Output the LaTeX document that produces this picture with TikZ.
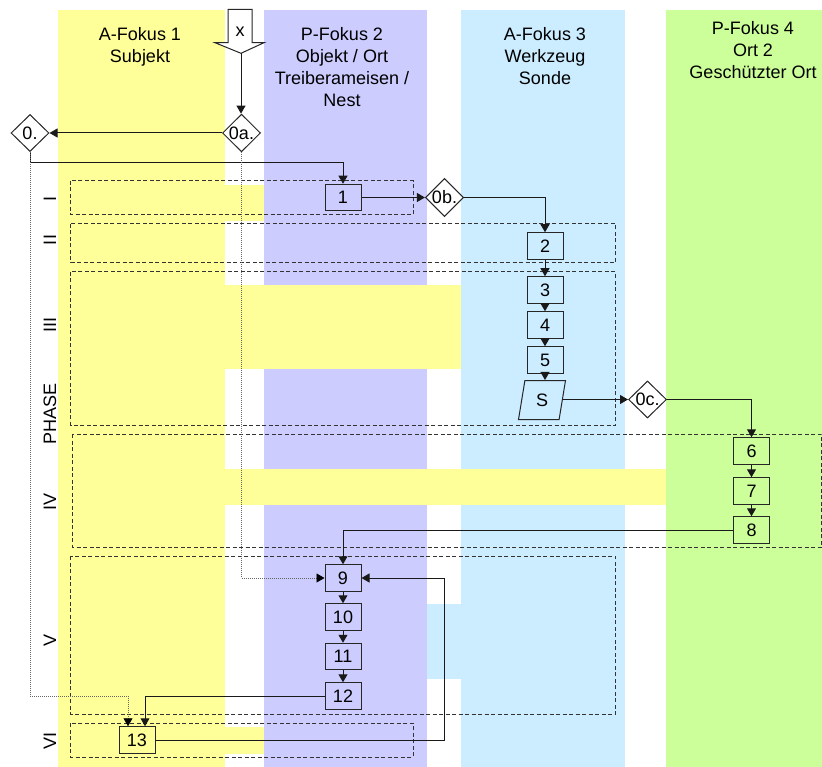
\documentclass[tikz,border=0pt]{standalone}
\usepackage{fontspec}
\setmainfont{Liberation Sans}
\usetikzlibrary{shapes.geometric,arrows.meta}
\definecolor{yel}{HTML}{FFFF99}
\definecolor{pur}{HTML}{CCCCFF}
\definecolor{blu}{HTML}{CCECFF}
\definecolor{grn}{HTML}{CCFF99}
\begin{document}
\begin{tikzpicture}[x=1pt,y=-1pt,
  fs/.style={font=\fontsize{18}{22}\selectfont},
  box/.style={draw=black!85, line width=1pt, minimum width=36pt, minimum height=26.5pt, inner sep=0pt, fs},
  dia/.style={diamond, draw=black!85, fill=white, line width=1pt, minimum width=38pt, minimum height=37pt, inner sep=0pt, fs},
  para/.style={trapezium, trapezium left angle=80, trapezium right angle=100, trapezium stretches=true, draw=black!85, line width=1pt, minimum width=47pt, minimum height=39pt, inner sep=0pt, fs},
  arr/.style={draw=black!90, line width=1pt, -{Triangle[length=8pt,width=9pt]}},
  dotarr/.style={draw=black!60, line width=.7pt, dash pattern=on 1pt off 1pt, -{Triangle[length=8pt,width=9pt,color=black]}},
  phasebox/.style={draw=black!80, line width=1pt, dash pattern=on 4pt off 2.5pt},
  head/.style={fs, align=center, anchor=north, inner sep=0pt},
  plab/.style={fs, rotate=90, inner sep=0pt}]
\useasboundingbox (0,0) rectangle (822,767);
% columns
\fill[yel] (58,10) rectangle (225,767);
\fill[pur] (264,10) rectangle (427,767);
\fill[blu] (461,10) rectangle (625,767);
\fill[grn] (666,10) rectangle (822,767);
% bands
\fill[yel] (58,185) rectangle (264,221);
\fill[yel] (58,285) rectangle (461,369);
\fill[yel] (58,469) rectangle (666,505);
\fill[blu] (427,604) rectangle (461,679);
\fill[yel] (58,727) rectangle (264,754);
% phase boxes
\draw[phasebox] (70.7,181) rectangle (413,215);
\draw[phasebox] (70.7,224) rectangle (615.7,263);
\draw[phasebox] (70.7,272) rectangle (615.7,425);
\draw[phasebox] (72.5,434) rectangle (821.5,547);
\draw[phasebox] (70.7,556) rectangle (615.7,714);
\draw[phasebox] (70.7,723) rectangle (413,757);
% headers
\node[head] (h1) at (140,27) {A-Fokus 1\\Subjekt};
\node[head] (h2) at (342,27) {P-Fokus 2\\Objekt / Ort\\Treiberameisen /\\Nest};
\node[head] (h3) at (545,27) {A-Fokus 3\\Werkzeug\\Sonde};
\node[head] (h4) at (753,21.5) {P-Fokus 4\\Ort 2\\Geschützter Ort};
% phase labels
\node[plab] (pI) at (50,199) {I};
\node[plab] (pII) at (50,240) {II};
\node[plab] (pIII) at (50,325) {III};
\node[plab] (pPH) at (50,414) {PHASE};
\node[plab] (pIV) at (50,502) {IV};
\node[plab] (pV) at (50,640) {V};
\node[plab] (pVI) at (50,741) {VI};
% input arrow x
\draw[draw=black!85, fill=white, line width=1pt] (228,9.3) -- (252,9.3) -- (252,42.7) -- (264,42.7) -- (241,53.3) -- (215,42.7) -- (228,42.7) -- cycle;
\coordinate (xtip) at (241,53.3);
\node[fs, inner sep=0pt] (xl) at (240,32) {x};
% diamonds
\node[dia] (d0) at (30,133) {0.};
\node[dia] (d0a) at (241.5,133) {0a.};
\node[dia] (d0b) at (444.5,197.5) {0b.};
\node[dia] (d0c) at (647.5,399.5) {0c.};
% boxes
\node[box] (b1) at (343,197.5) {1};
\node[box] (b2) at (545,246) {2};
\node[box] (b3) at (545,290) {3};
\node[box] (b4) at (545,325) {4};
\node[box] (b5) at (545,360) {5};
\node[para] (S) at (542,400) {S};
\node[box] (b6) at (751.5,451) {6};
\node[box] (b7) at (751.5,491) {7};
\node[box] (b8) at (751.5,530) {8};
\node[box] (b9) at (343,578) {9};
\node[box] (b10) at (343,617) {10};
\node[box] (b11) at (343,656.5) {11};
\node[box] (b12) at (343,696) {12};
\node[box] (b13) at (137,740) {13};
\coordinate (t13a) at ([xshift=-9pt]b13.north);
\coordinate (t13b) at ([xshift=8pt]b13.north);
\coordinate (r13) at (444,740);
% connectors
\draw[arr] (xtip) -- (xtip |- d0a.north);
\draw[arr] (d0a.west) -- (d0.east);
\draw[arr] (d0.south) -- ++(0,11) -| (b1.north);
\draw[dotarr] (d0.south) |- (t13a |- b12.west) -- (t13a);
\draw[dotarr] (d0a.south) |- (b9.west);
\draw[arr] (b1.east) -- (d0b.west);
\draw[arr] (d0b.east) -| (b2.north);
\draw[arr] (b2.south) -- (b3.north);
\draw[arr] (b3.south) -- (b4.north);
\draw[arr] (b4.south) -- (b5.north);
\draw[arr] (b5.south) -- (b5.south |- S.north);
\draw[arr] (S.east |- d0c.west) -- (d0c.west);
\draw[arr] (d0c.east) -| (b6.north);
\draw[arr] (b6.south) -- (b7.north);
\draw[arr] (b7.south) -- (b8.north);
\draw[arr] (b8.west) -| (b9.north);
\draw[arr] (b9.south) -- (b10.north);
\draw[arr] (b10.south) -- (b11.north);
\draw[arr] (b11.south) -- (b12.north);
\draw[arr] (b12.west) -| (t13b);
\draw[arr] (b13.east) -- (r13) |- (b9.east);
\end{tikzpicture}
\end{document}
